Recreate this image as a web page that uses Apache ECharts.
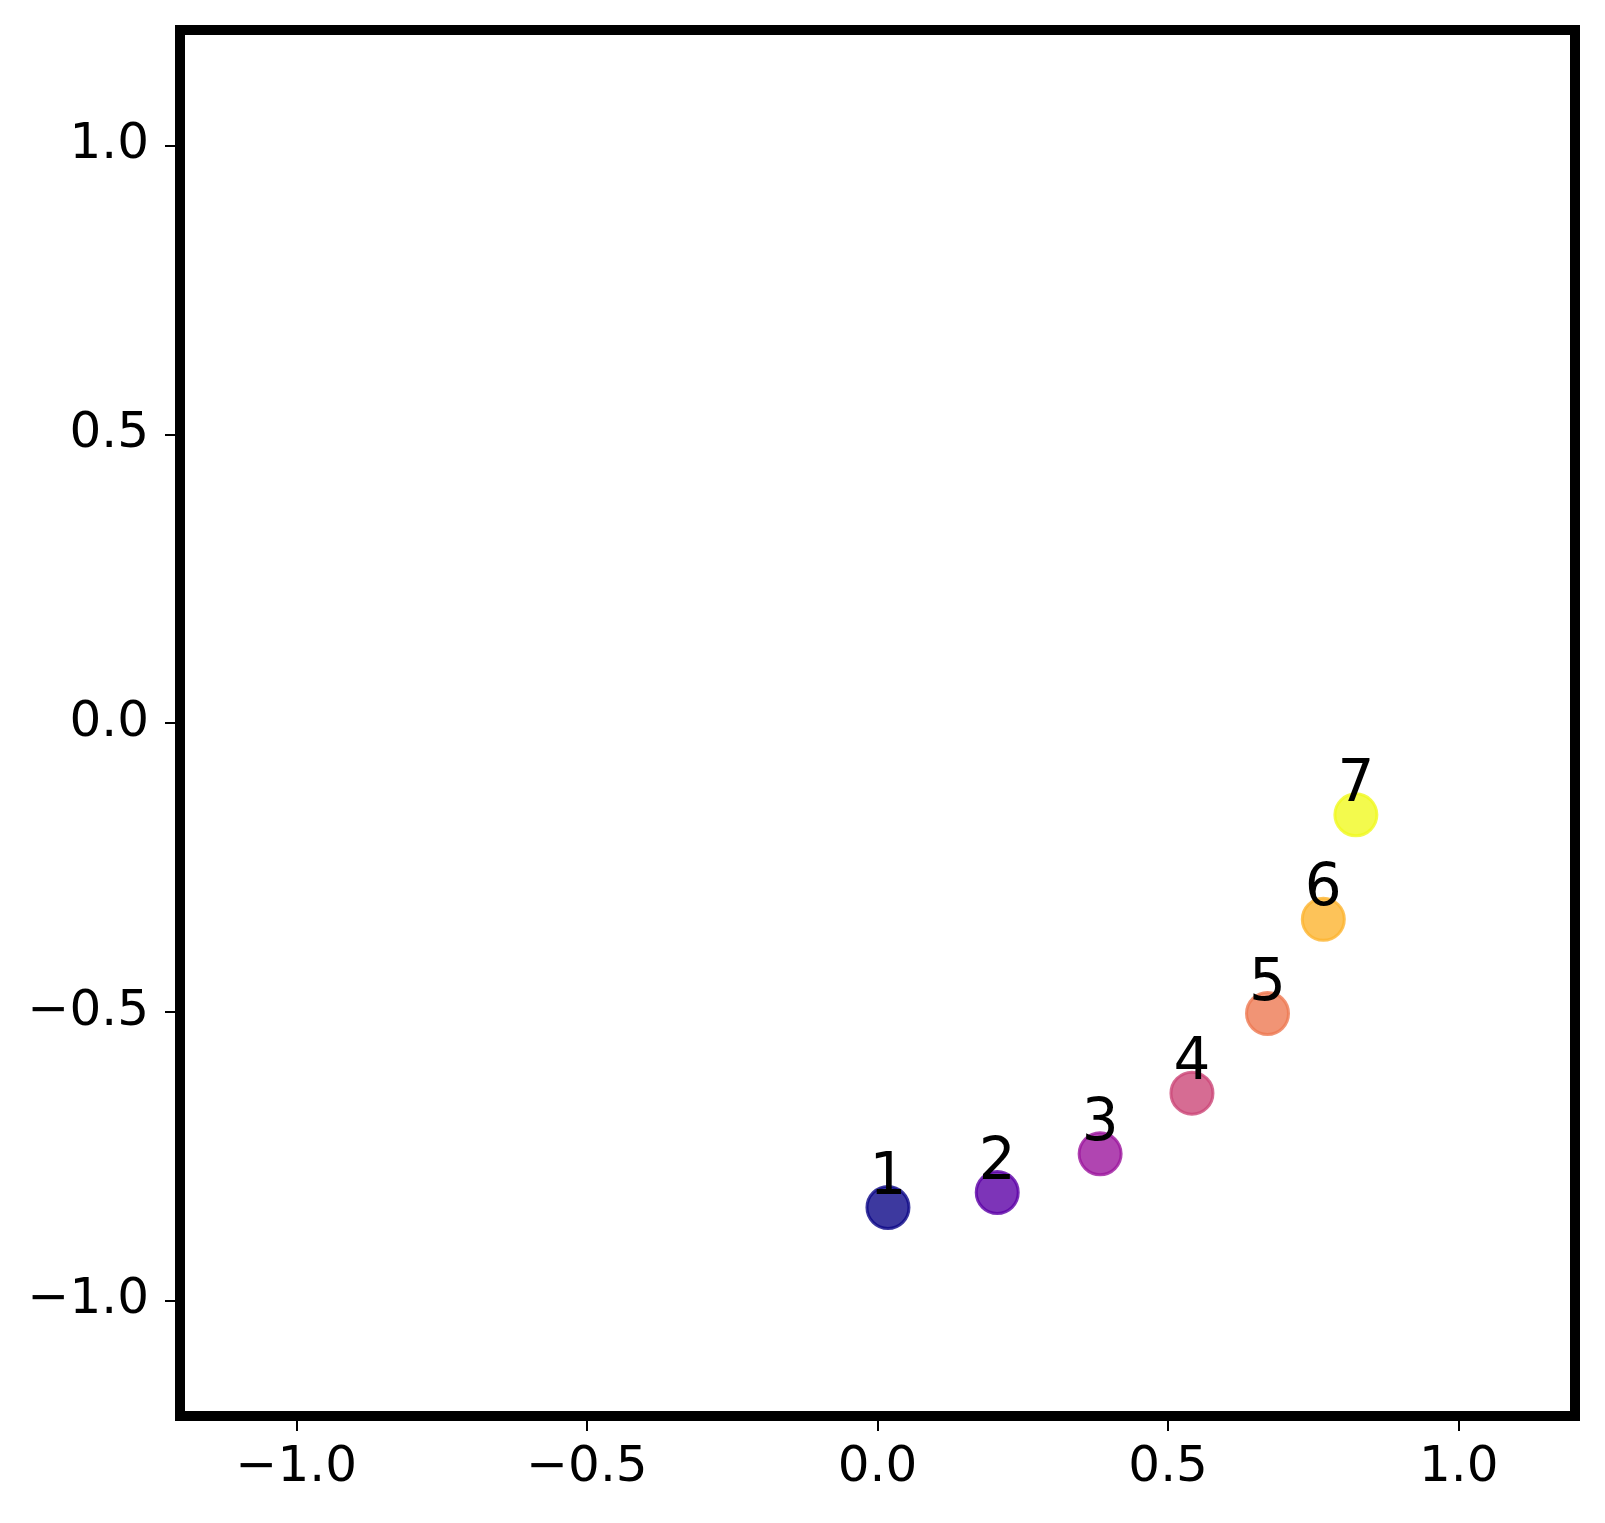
<!DOCTYPE html>
<html>
<head>
<meta charset="utf-8">
<script src="https://cdn.jsdelivr.net/npm/echarts@6/dist/echarts.min.js"></script>
<style>
html,body{margin:0;padding:0;background:#fff;}
#c{width:1605px;height:1523px;}
</style>
</head>
<body>
<div id="c"></div>
<script>
const pointLabels = ['1','2','3','4','5','6','7'];
const xValues = [0.018, 0.206, 0.383, 0.541, 0.671, 0.767, 0.823];
const yValues = [-0.839, -0.813, -0.746, -0.641, -0.503, -0.340, -0.159];
const pointColors = ['#0d0887','#5c01a6','#9c179e','#cc4778','#ed7953','#fdb42f','#f0f921'];
const tickValues = [-1.0, -0.5, 0.0, 0.5, 1.0];
const tickLabels = ['\u22121.0', '\u22120.5', '0.0', '0.5', '1.0'];

const fmt = v => {
  const i = tickValues.findIndex(t => Math.abs(t - v) < 1e-9);
  return i >= 0 ? tickLabels[i] : '';
};

const data = xValues.map((x, i) => ({
  value: [x, yValues[i]],
  name: pointLabels[i],
  itemStyle: { color: pointColors[i], borderColor: pointColors[i] }
}));

const FONT = 'DejaVu Sans';
const axisCommon = {
  type: 'value', min: -1.2, max: 1.2,
  splitLine: { show: false },
  axisLine: { show: false, onZero: false },
  axisTick: { show: true, inside: false, length: 15, lineStyle: { color: '#000', width: 2 }, customValues: tickValues },
  axisLabel: { show: true, color: '#000', fontSize: 50, fontFamily: FONT, formatter: fmt, customValues: tickValues }
};

const chart = echarts.init(document.getElementById('c'), null, { renderer: 'canvas' });
chart.setOption({
  animation: false,
  backgroundColor: '#fff',
  grid: { left: 180, right: 30, top: 30, bottom: 107, show: true, borderWidth: 10, borderColor: '#000', backgroundColor: 'transparent' },
  xAxis: Object.assign({}, axisCommon, { position: 'bottom', axisLabel: Object.assign({}, axisCommon.axisLabel, { margin: 27 }) }),
  yAxis: Object.assign({}, axisCommon, { position: 'left', axisLabel: Object.assign({}, axisCommon.axisLabel, { margin: 31 }) }),
  series: [{
    type: 'scatter',
    symbol: 'circle',
    symbolSize: 42,
    data: data,
    itemStyle: { opacity: 0.8, borderWidth: 3 },
    label: {
      show: true,
      position: ['50%', '50%'],
      align: 'center',
      verticalAlign: 'bottom',
      offset: [0, 0],
      formatter: p => p.name,
      color: '#000',
      opacity: 1,
      fontSize: 58,
      fontFamily: FONT
    },
    emphasis: { disabled: true }
  }]
});
</script>
</body>
</html>
